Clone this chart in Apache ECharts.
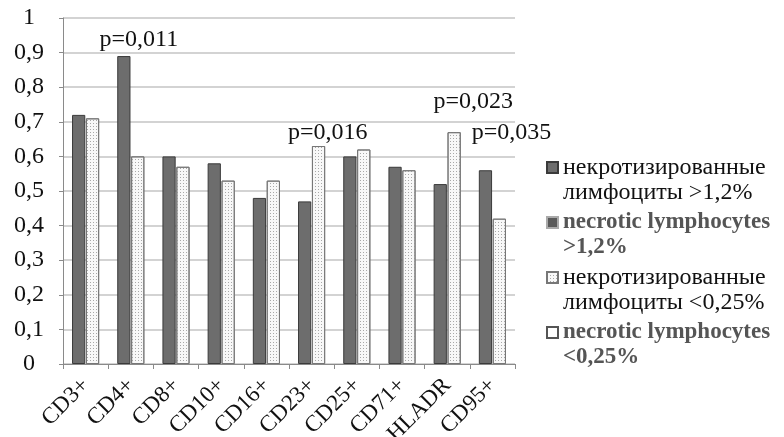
<!DOCTYPE html>
<html>
<head>
<meta charset="utf-8">
<script src="https://cdn.jsdelivr.net/npm/echarts@6/dist/echarts.min.js"></script>
<style>
  html, body { margin: 0; padding: 0; background: #fff; }
  #chart { width: 784px; height: 437px; }
</style>
</head>
<body>
<div id="chart"></div>
<script>
const categories = ["CD3+", "CD4+", "CD8+", "CD10+", "CD16+", "CD23+", "CD25+", "CD71+", "HLADR", "CD95+"];
const highValues = [0.72, 0.89, 0.60, 0.58, 0.48, 0.47, 0.60, 0.57, 0.52, 0.56];
const lowValues = [0.71, 0.60, 0.57, 0.53, 0.53, 0.63, 0.62, 0.56, 0.67, 0.42];
const yTicks = [0, 1, 0.1];

// p-value notes: category, height in value units, text
const pCats = ["CD4+", "CD23+", "HLADR", "CD95+"];
const pLevels = [0.936, 0.668, 0.757, 0.668];
const pTexts = ["p=0,011", "p=0,016", "p=0,023", "p=0,035"];

const names = [
  "некротизированные\nлимфоциты >1,2%",
  "necrotic lymphocytes\n>1,2%",
  "некротизированные\nлимфоциты <0,25%",
  "necrotic lymphocytes\n<0,25%",
];

const font = "'Liberation Serif', 'Times New Roman', serif";
const chart = echarts.init(document.getElementById("chart"));

// square at the top of a tall box, so the marker sits beside the first text line
const topSquare = "path://M0,0H11V11H0Z M0,36H0.001Z";
const ruText = { fontFamily: font, fontSize: 24, color: "#111", lineHeight: 25 };
const enText = { fontFamily: font, fontSize: 23, color: "#555", fontWeight: "bold", lineHeight: 25 };

const darkStyle = { color: "#6d6d6d", borderColor: "#3a3a3a", borderWidth: 1 };
const lightStyle = {
  color: "#f8f8f8",
  borderColor: "#777",
  borderWidth: 1,
  decal: { symbol: "rect", symbolSize: 1, color: "#a8a8a8", dashArrayX: [1, 2], dashArrayY: [1, 2] },
};

const shifts = [15, 23, 33, 26];

chart.setOption({
  animation: false,
  grid: { left: 63, right: 269, top: 18, bottom: 73, outerBoundsMode: "none", containLabel: false },
  legend: {
    orient: "vertical",
    left: 541,
    top: 150,
    itemWidth: 11,
    itemHeight: 36,
    itemGap: 5,
    icon: topSquare,
    data: [
      { name: names[0], textStyle: ruText },
      { name: names[1], textStyle: enText },
      { name: names[2], textStyle: ruText },
      { name: names[3], textStyle: enText },
    ],
  },
  xAxis: {
    type: "category",
    data: categories,
    axisLine: { lineStyle: { color: "#8a8a8a" } },
    axisTick: { show: true, length: 5, lineStyle: { color: "#8a8a8a" } },
    axisLabel: { rotate: 45, margin: 18, fontFamily: font, fontSize: 23, color: "#111", interval: 0 },
  },
  yAxis: {
    type: "value",
    min: yTicks[0],
    max: yTicks[1],
    interval: yTicks[2],
    axisLine: { show: true, lineStyle: { color: "#8a8a8a" } },
    axisTick: { show: true, length: 4, lineStyle: { color: "#8a8a8a" } },
    splitLine: { lineStyle: { color: "#c4c4c4", width: 1.5 } },
    axisLabel: {
      margin: 34,
      align: "center",
      fontFamily: font,
      fontSize: 24,
      color: "#111",
      formatter: (v) => String(Math.round(v * 10) / 10).replace(".", ","),
    },
  },
  series: [
    {
      name: names[0],
      type: "bar",
      stack: "a",
      data: highValues,
      barCategoryGap: "40%",
      barGap: "5%",
      itemStyle: darkStyle,
      markPoint: {
        symbol: "circle",
        symbolSize: 0,
        data: pCats.map((c, i) => ({
          coord: [c, pLevels[i]],
          label: {
            show: true,
            formatter: pTexts[i],
            position: "inside",
            offset: [shifts[i], 0],
            fontFamily: font,
            fontSize: 24,
            color: "#111",
          },
        })),
      },
    },
    {
      name: names[1],
      type: "bar",
      stack: "a",
      data: [],
      itemStyle: { color: "#5a5a5a", borderColor: "#aaa", borderWidth: 1, borderType: "dotted" },
    },
    {
      name: names[2],
      type: "bar",
      stack: "b",
      data: lowValues,
      itemStyle: lightStyle,
    },
    {
      name: names[3],
      type: "bar",
      stack: "b",
      data: [],
      itemStyle: { color: "#fff", borderColor: "#555", borderWidth: 1 },
    },
  ],
});
</script>
</body>
</html>
